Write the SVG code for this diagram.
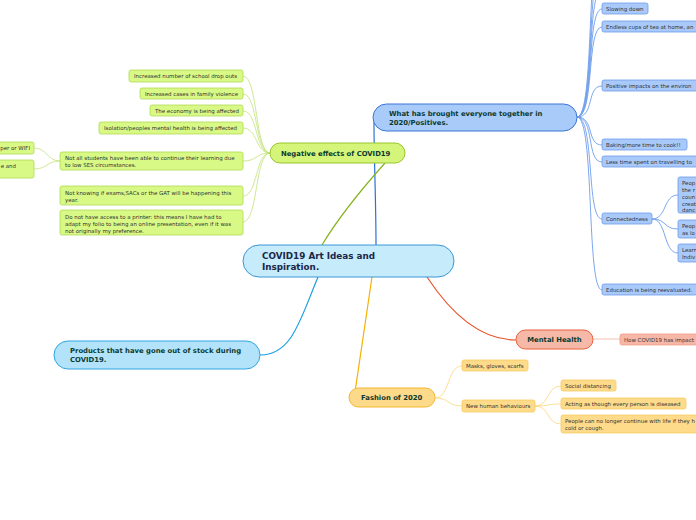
<svg xmlns="http://www.w3.org/2000/svg" width="696" height="520" viewBox="0 0 696 520">
<style>
.s{font-family:"DejaVu Sans",Verdana,sans-serif;font-size:5.45px;fill:#333}
.m{font-family:"DejaVu Sans",Verdana,sans-serif;font-size:6.85px;font-weight:bold;fill:#0b3a2e}
.c{font-family:"DejaVu Sans",Verdana,sans-serif;font-size:8.8px;font-weight:bold;fill:#1a2748}
.bl{fill:#a8c9f9;stroke:#6d9ceb;stroke-width:0.8}
.gr{fill:#d8f985;stroke:#b2da55;stroke-width:0.8}
.ye{fill:#fedb8a;stroke:#f7cb62;stroke-width:0.8}
.rd{fill:#f7b7a6;stroke:#ef9d88;stroke-width:0.8}
.lb{fill:none;stroke:#6d9ceb;stroke-width:0.9}
.lg{fill:none;stroke:#c3e27a;stroke-width:0.8}
.ly{fill:none;stroke:#fcd67a;stroke-width:0.8}
.lr{fill:none;stroke:#f4b0a0;stroke-width:0.8}
</style>
<rect width="696" height="520" fill="#fff"/>
<g id="connectors">
<path d="M376,245 C376,200 374,160 374,122" fill="none" stroke="#2f6fd6" stroke-width="1.2"/>
<path d="M322,245 C340,215 368,182 385,163" fill="none" stroke="#86b31e" stroke-width="1.2"/>
<path d="M427,277 C450,312 480,340 516,340" fill="none" stroke="#e8542a" stroke-width="1.2"/>
<path d="M372,277 C366,320 360,360 355,392" fill="none" stroke="#f5b000" stroke-width="1.2"/>
<path d="M318,277 C300,320 292,355 260,355" fill="none" stroke="#1aa0e0" stroke-width="1.2"/>
<path class="lb" d="M577,117 C595,117 586,-60 602,-60"/>
<path class="lb" d="M577,117 C595,117 586,-30 602,-30"/>
<path class="lb" d="M577,117 C595,117 586,-10 602,-10"/>
<path class="lb" d="M577,117 C595,117 586,9 602,9"/>
<path class="lb" d="M577,117 C595,117 586,27 602,27"/>
<path class="lb" d="M577,117 C595,117 586,86 602,86"/>
<path class="lb" d="M577,117 C595,117 586,145 602,145"/>
<path class="lb" d="M577,117 C595,117 586,162 602,162"/>
<path class="lb" d="M577,117 C595,117 586,219 602,219"/>
<path class="lb" d="M577,117 C595,117 586,290 602,290"/>
<path class="lb" d="M652,219 C667,219 663,195 678,195"/>
<path class="lb" d="M652,219 C667,219 663,229 678,229"/>
<path class="lb" d="M652,219 C667,219 663,253 678,253"/>
<path class="lg" d="M270,153 C255,153 258,76 243,76"/>
<path class="lg" d="M270,153 C255,153 258,94 243,94"/>
<path class="lg" d="M270,153 C255,153 258,111 243,111"/>
<path class="lg" d="M270,153 C255,153 258,128 243,128"/>
<path class="lg" d="M270,153 C255,153 258,161 243,161"/>
<path class="lg" d="M270,153 C255,153 258,196 243,196"/>
<path class="lg" d="M270,153 C255,153 258,222 243,222"/>
<path class="lg" d="M60,161 C47,161 47,148 34,148"/>
<path class="lg" d="M60,161 C47,161 47,169 34,169"/>
<path class="lr" d="M593,339 L620,339"/>
<path class="ly" d="M435,398 C450,398 447,366 462,366"/>
<path class="ly" d="M435,398 C450,398 447,406 462,406"/>
<path class="ly" d="M535,406 C550,406 546,386 561,386"/>
<path class="ly" d="M535,406 C550,406 546,404 561,404"/>
<path class="ly" d="M535,406 C550,406 546,424 561,424"/>
</g>
<g id="central">
<rect x="243" y="245" width="211" height="32" rx="16" fill="#c6ebfb" stroke="#3a96d6" stroke-width="1"/>
<text class="c" x="262" y="259">COVID19 Art Ideas and</text>
<text class="c" x="262" y="270">Inspiration.</text>
</g>
<g id="positives">
<rect x="373" y="104" width="204" height="27" rx="13.5" fill="#a9cbfa" stroke="#3b74d6" stroke-width="1"/>
<text class="m" x="389" y="116">What has brought everyone together in</text>
<text class="m" x="389" y="125">2020/Positives.</text>
</g>
<g id="negatives">
<rect x="270" y="143" width="135" height="20" rx="10" fill="#d4f57a" stroke="#98c62a" stroke-width="1"/>
<text class="m" x="281" y="156">Negative effects of COVID19</text>
</g>
<g id="mental">
<rect x="516" y="330" width="77" height="19" rx="9.5" fill="#f6b9a8" stroke="#e8603c" stroke-width="1"/>
<text class="m" x="554.5" y="342" text-anchor="middle">Mental Health</text>
</g>
<g id="fashion">
<rect x="349" y="388" width="86" height="19" rx="9.5" fill="#fdd98a" stroke="#f5b730" stroke-width="1"/>
<text class="m" x="361" y="400">Fashion of 2020</text>
</g>
<g id="products">
<rect x="54" y="341" width="206" height="28" rx="14" fill="#b3e3fa" stroke="#2ea6e2" stroke-width="1"/>
<text class="m" x="70" y="353">Products that have gone out of stock during</text>
<text class="m" x="70" y="362">COVID19.</text>
</g>
<g id="p-slowing"><rect class="bl" x="602" y="3" width="46" height="11" rx="2"/><text class="s" x="606" y="10.5">Slowing down</text></g>
<g id="p-tea"><rect class="bl" x="602" y="21" width="100" height="11" rx="2"/><text class="s" x="606" y="28.5">Endless cups of tea at home, an</text></g>
<g id="p-env"><rect class="bl" x="602" y="80" width="100" height="11" rx="2"/><text class="s" x="606" y="87.5">Positive impacts on the environ</text></g>
<g id="p-baking"><rect class="bl" x="602" y="139" width="85" height="11" rx="2"/><text class="s" x="606" y="146.5">Baking/more time to cook!!</text></g>
<g id="p-travel"><rect class="bl" x="602" y="156" width="100" height="11" rx="2"/><text class="s" x="606" y="163.5">Less time spent on travelling to</text></g>
<g id="p-connected"><rect class="bl" x="602" y="213" width="50" height="11" rx="2"/><text class="s" x="606" y="220.5">Connectedness</text></g>
<g id="p-education"><rect class="bl" x="602" y="284" width="95" height="11" rx="2"/><text class="s" x="606" y="291.5">Education is being reevaluated.</text></g>
<g id="c-1"><rect class="bl" x="678" y="177" width="30" height="36" rx="2"/>
<text class="s" x="682" y="185">Peop</text><text class="s" x="682" y="192">the r</text><text class="s" x="682" y="199">coun</text><text class="s" x="682" y="206">creat</text><text class="s" x="682" y="212">danc</text></g>
<g id="c-2"><rect class="bl" x="678" y="220" width="30" height="18" rx="2"/><text class="s" x="682" y="228">Peop</text><text class="s" x="682" y="235">as lo</text></g>
<g id="c-3"><rect class="bl" x="678" y="244" width="30" height="18" rx="2"/><text class="s" x="682" y="252">Learn</text><text class="s" x="682" y="259">Indiv</text></g>
<g id="n-dropouts"><rect class="gr" x="129" y="70" width="114" height="12" rx="2"/><text class="s" x="134" y="78">Increased number of school drop outs</text></g>
<g id="n-violence"><rect class="gr" x="140" y="88" width="103" height="11" rx="2"/><text class="s" x="145" y="95.5">Increased cases in family violence</text></g>
<g id="n-economy"><rect class="gr" x="150" y="105" width="93" height="11" rx="2"/><text class="s" x="155" y="112.5">The economy is being affected</text></g>
<g id="n-isolation"><rect class="gr" x="99" y="122" width="144" height="12" rx="2"/><text class="s" x="104" y="130">Isolation/peoples mental health is being affected</text></g>
<g id="n-students"><rect class="gr" x="60" y="152" width="183" height="18" rx="2"/><text class="s" x="65" y="160">Not all students have been able to continue their learning due</text><text class="s" x="65" y="167">to low SES circumstances.</text></g>
<g id="n-wifi"><rect class="gr" x="-10" y="142" width="44" height="12" rx="2"/><text class="s" x="30" y="150" text-anchor="end">per or WIFI</text></g>
<g id="n-and"><rect class="gr" x="-10" y="160" width="44" height="18" rx="2"/><text class="s" x="16" y="168" text-anchor="end">e and</text></g>
<g id="n-exams"><rect class="gr" x="60" y="186" width="183" height="19" rx="2"/><text class="s" x="65" y="194.5">Not knowing if exams,SACs or the GAT will be happening this</text><text class="s" x="65" y="201.5">year.</text></g>
<g id="n-printer"><rect class="gr" x="60" y="210" width="183" height="25" rx="2"/><text class="s" x="65" y="218.5">Do not have access to a printer: this means I have had to</text><text class="s" x="65" y="225.5">adapt my folio to being an online presentation, even if it was</text><text class="s" x="65" y="232.5">not originally my preference.</text></g>
<g id="m-impact"><rect class="rd" x="620" y="334" width="90" height="11" rx="2"/><text class="s" x="624" y="341.5">How COVID19 has impact</text></g>
<g id="f-masks"><rect class="ye" x="462" y="360" width="66" height="11" rx="2"/><text class="s" x="466" y="367.5">Masks, gloves, scarfs</text></g>
<g id="f-behaviours"><rect class="ye" x="462" y="400" width="73" height="12" rx="2"/><text class="s" x="466" y="408">New human behaviours</text></g>
<g id="b-distancing"><rect class="ye" x="561" y="380" width="55" height="11" rx="2"/><text class="s" x="565" y="387.5">Social distancing</text></g>
<g id="b-acting"><rect class="ye" x="561" y="398" width="125" height="11" rx="2"/><text class="s" x="565" y="405.5">Acting as though every person is diseased</text></g>
<g id="b-life"><rect class="ye" x="561" y="415" width="140" height="18" rx="2"/><text class="s" x="565" y="423">People can no longer continue with life if they h</text><text class="s" x="565" y="430">cold or cough.</text></g>
</svg>
